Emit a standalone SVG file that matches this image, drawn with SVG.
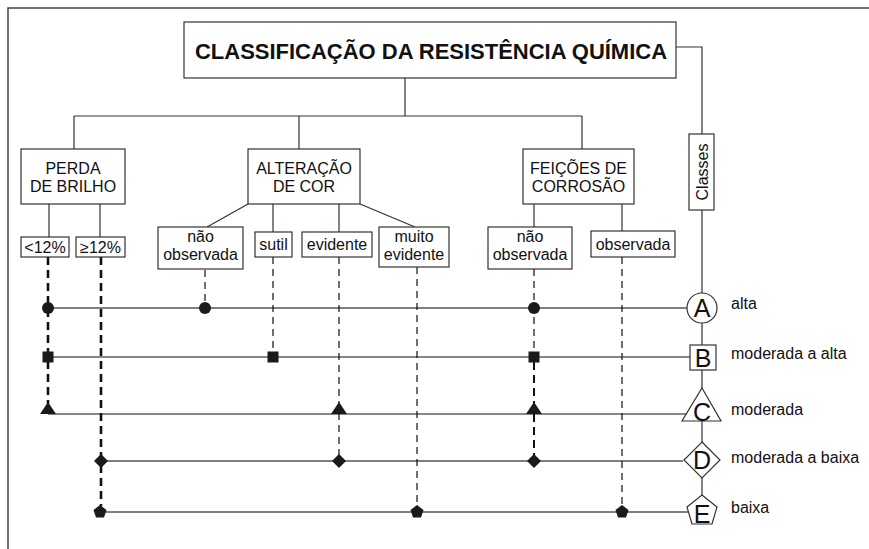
<svg xmlns="http://www.w3.org/2000/svg" width="869" height="549" viewBox="0 0 869 549">
<defs>
<style>
.box{fill:#fff;stroke:#333;stroke-width:1.2}
.t{font-family:"Liberation Sans",Arial,sans-serif;font-size:16px;fill:#111;text-anchor:middle}
.tl{font-family:"Liberation Sans",Arial,sans-serif;font-size:16px;fill:#111}
.title{font-family:"Liberation Sans",Arial,sans-serif;font-size:22px;font-weight:bold;fill:#111;text-anchor:middle}
.sym{fill:#fff;stroke:#333;stroke-width:1.2}
.let{font-family:"Liberation Sans",Arial,sans-serif;font-size:25px;fill:#111;text-anchor:middle}
.ln{fill:none;stroke:#333;stroke-width:1.2}
.row1{fill:none;stroke:#555;stroke-width:1.4}
.row2{fill:none;stroke:#111;stroke-width:1.2}
.dt{fill:none;stroke:#111;stroke-width:1.2;stroke-dasharray:7 5}
.dk{fill:none;stroke:#111;stroke-width:2.6;stroke-dasharray:8 5}
.mk{fill:#1a1a1a;stroke:none}
</style>
</defs>
<rect width="869" height="549" fill="#fff"/>
<rect x="8" y="8" width="900" height="600" fill="none" stroke="#444" stroke-width="1.5"/>

<g id="connectors">
  <path class="ln" d="M405 78V116M74 116H582M74 116V149M299 116V149M582 116V149"/>
  <path class="ln" d="M676 47H702V134"/>
  <path class="ln" d="M49 204V237M100 204V237"/>
  <path class="ln" d="M248 204L207 227M273 204V232M339 204V232M360 204L415 227"/>
  <path class="ln" d="M534 204V227M622 204V231"/>
  <path class="ln" d="M702 210V293M702 323V345M702 370V388M702 421V442M702 478V495"/>
  <path class="row1" d="M48 308H687"/>
  <path class="row2" d="M48 357H690"/>
  <path class="row2" d="M48 414H686"/>
  <path class="row1" d="M101 461H683"/>
  <path class="row1" d="M99 512H688"/>
  <path class="dk" d="M48 257V404"/>
  <path class="dk" d="M101 257V506"/>
  <path class="dt" d="M205 270V303"/>
  <path class="dt" d="M273 257V352"/>
  <path class="dt" d="M339 257V455"/>
  <path class="dt" d="M417 267V506"/>
  <path class="dt" d="M534 269V352"/>
  <path class="dk" d="M534 362V455" style="stroke-width:2"/>
  <path class="dt" d="M622 257V506"/>
</g>

<g id="markers">
  <circle class="mk" cx="48" cy="308" r="6"/>
  <circle class="mk" cx="205" cy="308" r="6"/>
  <circle class="mk" cx="534" cy="308" r="6"/>
  <rect class="mk" x="42.5" y="351.5" width="11" height="11"/>
  <rect class="mk" x="267.5" y="351.5" width="11" height="11"/>
  <rect class="mk" x="528.5" y="351.5" width="11" height="11"/>
  <polygon class="mk" points="48,402 56,414 40,414"/>
  <polygon class="mk" points="339,402 347,414 331,414"/>
  <polygon class="mk" points="534,402 542,414 526,414"/>
  <polygon class="mk" points="101,454 108,461 101,468 94,461"/>
  <polygon class="mk" points="339,454 346,461 339,468 332,461"/>
  <polygon class="mk" points="534,454 541,461 534,468 527,461"/>
  <polygon class="mk" points="100,505 106.5,510 104,517.5 96,517.5 93.5,510"/>
  <polygon class="mk" points="417,505 423.5,510 421,517.5 413,517.5 410.5,510"/>
  <polygon class="mk" points="622,505 628.5,510 626,517.5 618,517.5 615.5,510"/>
</g>

<g id="title">
  <rect class="box" x="184" y="22" width="492" height="56"/>
  <text class="title" x="431" y="59" textLength="472" lengthAdjust="spacingAndGlyphs">CLASSIFICAÇÃO DA RESISTÊNCIA QUÍMICA</text>
</g>

<g id="perda">
  <rect class="box" x="21" y="149" width="104" height="55"/>
  <text class="t" x="73" y="174">PERDA</text>
  <text class="t" x="73" y="192">DE BRILHO</text>
</g>
<g id="menor12">
  <rect class="box" x="21" y="237" width="48" height="20"/>
  <text class="t" x="45" y="253">&lt;12%</text>
</g>
<g id="maior12">
  <rect class="box" x="76" y="237" width="49" height="20"/>
  <text class="t" x="100.5" y="253">≥12%</text>
</g>

<g id="alteracao">
  <rect class="box" x="248" y="149" width="112" height="55"/>
  <text class="t" x="304" y="174">ALTERAÇÃO</text>
  <text class="t" x="304" y="192">DE COR</text>
</g>
<g id="cor-nao-observada">
  <rect class="box" x="158" y="227" width="85" height="42"/>
  <text class="t" x="200.5" y="242">não</text>
  <text class="t" x="200.5" y="260">observada</text>
</g>
<g id="sutil">
  <rect class="box" x="255" y="232" width="37" height="25"/>
  <text class="t" x="273.5" y="250">sutil</text>
</g>
<g id="evidente">
  <rect class="box" x="302" y="232" width="70" height="25"/>
  <text class="t" x="337" y="250">evidente</text>
</g>
<g id="muito-evidente">
  <rect class="box" x="379" y="227" width="70" height="40"/>
  <text class="t" x="414" y="242">muito</text>
  <text class="t" x="414" y="260">evidente</text>
</g>

<g id="feicoes">
  <rect class="box" x="523" y="149" width="111" height="55"/>
  <text class="t" x="578.5" y="174">FEIÇÕES DE</text>
  <text class="t" x="578.5" y="192">CORROSÃO</text>
</g>
<g id="corr-nao-observada">
  <rect class="box" x="488" y="227" width="84" height="42"/>
  <text class="t" x="530" y="242">não</text>
  <text class="t" x="530" y="260">observada</text>
</g>
<g id="corr-observada">
  <rect class="box" x="591" y="231" width="84" height="26"/>
  <text class="t" x="633" y="250">observada</text>
</g>

<g id="classes">
  <rect class="box" x="689" y="134" width="25" height="76"/>
  <text class="t" transform="translate(707.5,172) rotate(-90)">Classes</text>
</g>

<g id="classe-a">
  <circle class="sym" cx="702" cy="308" r="15"/>
  <text class="let" x="702" y="317">A</text>
  <text class="tl" x="731" y="309">alta</text>
</g>
<g id="classe-b">
  <rect class="sym" x="690" y="345" width="26" height="25"/>
  <text class="let" x="703" y="367">B</text>
  <text class="tl" x="731" y="359">moderada a alta</text>
</g>
<g id="classe-c">
  <polygon class="sym" points="702,388 721,421 682,421"/>
  <text class="let" x="702" y="421">C</text>
  <text class="tl" x="731" y="415">moderada</text>
</g>
<g id="classe-d">
  <polygon class="sym" points="702,442 720,460 702,478 684,460"/>
  <text class="let" x="702" y="469">D</text>
  <text class="tl" x="731" y="463">moderada a baixa</text>
</g>
<g id="classe-e">
  <polygon class="sym" points="702,495 717,507 712,524 692,524 687,507"/>
  <text class="let" x="702" y="523">E</text>
  <text class="tl" x="731" y="513">baixa</text>
</g>
</svg>
